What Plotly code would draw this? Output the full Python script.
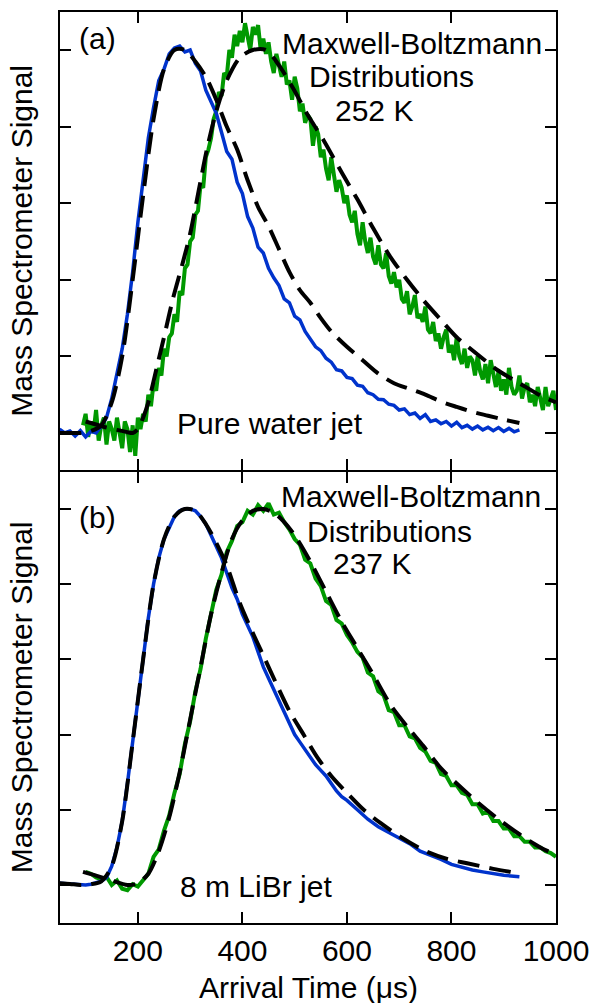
import plotly.graph_objects as go
from plotly.subplots import make_subplots

# ---------------- data ----------------
# panel (a) pure water jet
t_blue_a = list(range(50, 931, 10))
blue_a = [0.01, 0.0, 0.005, -0.008, 0.006, -0.01, 0.004, 0.0, 0.018, 0.04,
          0.09, 0.15, 0.22, 0.31, 0.42, 0.55, 0.67, 0.77, 0.85, 0.92,
          0.95, 0.99, 1.005, 1.01, 0.995, 1.0, 0.965, 0.945, 0.895, 0.865,
          0.835, 0.785, 0.735, 0.715, 0.655, 0.625, 0.565, 0.535, 0.485, 0.47,
          0.43, 0.405, 0.385, 0.35, 0.34, 0.305, 0.295, 0.265, 0.245, 0.225,
          0.215, 0.195, 0.185, 0.165, 0.162, 0.145, 0.142, 0.125, 0.122, 0.105,
          0.10, 0.088, 0.087, 0.075, 0.072, 0.06, 0.063, 0.048, 0.052, 0.038,
          0.048, 0.03, 0.034, 0.024, 0.03, 0.018, 0.028, 0.014, 0.02, 0.01,
          0.018, 0.008, 0.015, 0.006, 0.014, 0.004, 0.012, 0.003, 0.008]

t_green_a = list(range(95, 1001, 5))
green_a = [0.02, 0.05, -0.01, 0.03, 0.00, 0.06, -0.02, 0.02, 0.04, -0.03,
           0.03, 0.01, -0.02, 0.04, 0.00, -0.04, 0.03, 0.01, -0.05, 0.02,
           -0.06, 0.04, 0.01, 0.05, 0.03, 0.10, 0.07, 0.13, 0.11, 0.17,
           0.15, 0.22, 0.20, 0.25, 0.26, 0.31, 0.29, 0.37, 0.36, 0.43,
           0.44, 0.50, 0.51, 0.57, 0.58, 0.65, 0.64, 0.72, 0.74, 0.77,
           0.82, 0.84, 0.89, 0.88, 0.94, 0.93, 1.00, 0.98, 1.04, 1.01,
           1.05, 1.02, 1.07, 1.03, 1.00, 1.06, 1.04, 1.065, 1.00, 1.03,
           0.99, 1.02, 0.97, 0.94, 0.99, 0.96, 0.93, 0.97, 0.91, 0.92,
           0.87, 0.93, 0.90, 0.84, 0.86, 0.81, 0.83, 0.82, 0.75, 0.80,
           0.78, 0.72, 0.74, 0.69, 0.66, 0.72, 0.67, 0.63, 0.66, 0.64,
           0.60, 0.62, 0.57, 0.55, 0.58, 0.52, 0.49, 0.55, 0.50, 0.47,
           0.51, 0.46, 0.44, 0.49, 0.44, 0.43, 0.47, 0.41, 0.39, 0.42,
           0.38, 0.40, 0.35, 0.34, 0.37, 0.31, 0.33, 0.36, 0.30, 0.31,
           0.29, 0.33, 0.27, 0.26, 0.29, 0.24, 0.26, 0.22, 0.25, 0.27,
           0.21, 0.23, 0.19, 0.25, 0.20, 0.18, 0.22, 0.17, 0.20, 0.19,
           0.15, 0.20, 0.16, 0.14, 0.18, 0.13, 0.19, 0.15, 0.12, 0.16,
           0.11, 0.14, 0.10, 0.17, 0.12, 0.10, 0.11, 0.15, 0.09, 0.12,
           0.13, 0.08, 0.10, 0.07, 0.12, 0.09, 0.06, 0.12, 0.07, 0.09,
           0.11, 0.06]

t_fit_blue_a = [50, 70, 90, 110, 130, 150, 170, 190, 210, 230, 250, 270, 290,
                310, 330, 350, 370, 390, 410, 430, 450, 470, 490, 510, 530,
                550, 570, 600, 630, 660, 690, 720, 750, 780, 810, 840, 870,
                900, 930]
fit_blue_a = [0.0, 0.0, 0.0, 0.005, 0.02, 0.08, 0.20, 0.40, 0.62, 0.82, 0.95,
              1.0, 1.0, 0.97, 0.93, 0.87, 0.80, 0.74, 0.66, 0.59, 0.54, 0.48,
              0.42, 0.373, 0.34, 0.30, 0.265, 0.225, 0.19, 0.155, 0.13, 0.115,
              0.10, 0.082, 0.068, 0.055, 0.045, 0.035, 0.026]

t_fit_green_a = [100, 120, 140, 160, 180, 190, 200, 210, 220, 236, 250, 267,
                 285, 300, 316, 332, 350, 370, 395, 420, 445, 470, 497, 525,
                 555, 590, 620, 650, 683, 715, 746, 780, 810, 850, 887, 930,
                 975, 1000]
fit_green_a = [0.03, 0.022, 0.014, 0.008, 0.002, 0.0, 0.01, 0.04, 0.08, 0.17,
               0.25, 0.35, 0.44, 0.52, 0.63, 0.74, 0.84, 0.92, 0.98, 1.0, 1.0,
               0.96, 0.90, 0.83, 0.765, 0.68, 0.61, 0.535, 0.46, 0.40, 0.347,
               0.295, 0.25, 0.205, 0.165, 0.13, 0.094, 0.08]

# panel (b) 8 m LiBr jet
t_blue_b = [50, 70, 90, 100, 110, 120, 130, 140, 150, 160, 170, 180, 190, 200,
            210, 220, 230, 240, 250, 260, 270, 280, 290, 300, 310, 320, 330,
            340, 350, 360, 370, 380, 390, 400, 410, 420, 430, 440, 450, 460,
            470, 480, 490, 500, 510, 520, 530, 540, 550, 560, 570, 580, 590,
            600, 620, 640, 660, 680, 700, 720, 740, 760, 780, 800, 820, 840,
            860, 880, 900, 930]
blue_b = [0.005, 0.003, 0.0, 0.0, 0.002, 0.005, 0.01, 0.02, 0.05, 0.10, 0.17,
          0.27, 0.38, 0.49, 0.60, 0.71, 0.80, 0.87, 0.92, 0.95, 0.98, 0.995,
          1.0, 1.0, 0.995, 0.98, 0.96, 0.93, 0.90, 0.87, 0.83, 0.79, 0.76,
          0.72, 0.69, 0.66, 0.62, 0.58, 0.55, 0.52, 0.49, 0.46, 0.43, 0.40,
          0.38, 0.36, 0.34, 0.32, 0.305, 0.29, 0.27, 0.25, 0.235, 0.225, 0.20,
          0.175, 0.155, 0.14, 0.125, 0.11, 0.09, 0.08, 0.068, 0.055, 0.047,
          0.04, 0.035, 0.03, 0.026, 0.022]

t_green_b = list(range(100, 1001, 10))
green_b = [0.035, 0.03, 0.02, 0.015, 0.022, 0.0, 0.012, -0.01, -0.014, 0.002,
           -0.004, 0.015, 0.03, 0.075, 0.095, 0.145, 0.185, 0.245, 0.295, 0.375,
           0.435, 0.515, 0.575, 0.655, 0.715, 0.785, 0.825, 0.885, 0.915, 0.955,
           0.965, 0.995, 0.985, 1.01, 0.995, 1.015, 0.985, 0.99, 0.965, 0.945,
           0.92, 0.905, 0.865, 0.855, 0.815, 0.795, 0.755, 0.745, 0.705, 0.695,
           0.665, 0.645, 0.62, 0.605, 0.565, 0.555, 0.515, 0.505, 0.465, 0.46,
           0.425, 0.425, 0.395, 0.39, 0.365, 0.355, 0.33, 0.325, 0.295, 0.29,
           0.265, 0.265, 0.245, 0.24, 0.215, 0.215, 0.19, 0.195, 0.17, 0.17,
           0.15, 0.15, 0.13, 0.13, 0.115, 0.115, 0.10, 0.10, 0.09, 0.085,
           0.075]

t_fit_blue_b = [50, 70, 90, 110, 130, 150, 170, 190, 210, 230, 250, 270, 290,
                310, 330, 350, 370, 395, 420, 440, 465, 491, 517, 543, 570, 600,
                632, 664, 700, 746, 790, 830, 880, 926]
fit_blue_b = [0.005, 0.003, 0.0, 0.002, 0.01, 0.05, 0.17, 0.38, 0.60, 0.80,
              0.92, 0.98, 1.0, 0.995, 0.96, 0.91, 0.85, 0.75, 0.67, 0.61,
              0.535, 0.46, 0.40, 0.34, 0.29, 0.245, 0.20, 0.165, 0.13, 0.093,
              0.07, 0.058, 0.043, 0.032]

t_fit_green_b = [95, 120, 150, 180, 200, 220, 240, 260, 280, 300, 320, 340,
                 360, 380, 400, 420, 440, 460, 480, 500, 530, 560, 590, 620,
                 650, 683, 716, 746, 780, 810, 850, 890, 930, 970, 1000]
fit_green_b = [0.035, 0.025, 0.012, 0.0, 0.005, 0.03, 0.09, 0.18, 0.30, 0.44,
               0.58, 0.72, 0.83, 0.92, 0.97, 0.995, 1.0, 0.99, 0.965, 0.93,
               0.86, 0.78, 0.70, 0.63, 0.56, 0.48, 0.42, 0.37, 0.31, 0.27,
               0.22, 0.175, 0.135, 0.10, 0.08]

x_ticks = [200, 400, 600, 800, 1000]
y_ticks = [0, 0.2, 0.4, 0.6, 0.8, 1.0]

BLUE = "#0033cc"
GREEN = "#009900"
FONT = "Liberation Sans, Arial, Helvetica, sans-serif"
FS = 30

fig = make_subplots(rows=2, cols=1, shared_xaxes=True, vertical_spacing=0.0)

def add_panel(row, tb, yb, tg, yg, tfb, yfb, tfg, yfg, gw):
    fig.add_trace(go.Scatter(x=tg, y=yg, mode="lines",
                             line=dict(color=GREEN, width=gw)), row=row, col=1)
    fig.add_trace(go.Scatter(x=tb, y=yb, mode="lines",
                             line=dict(color=BLUE, width=3.5)), row=row, col=1)
    for tt, yy in ((tfb, yfb), (tfg, yfg)):
        fig.add_trace(go.Scatter(x=tt, y=yy, mode="lines",
                                 line=dict(color="black", width=4, dash="22px,10px",
                                           shape="spline", smoothing=0.8)),
                      row=row, col=1)

add_panel(1, t_blue_a, blue_a, t_green_a, green_a,
          t_fit_blue_a, fit_blue_a, t_fit_green_a, fit_green_a, 4)
add_panel(2, t_blue_b, blue_b, t_green_b, green_b,
          t_fit_blue_b, fit_blue_b, t_fit_green_b, fit_green_b, 4)

axis_common = dict(showline=True, linecolor="black", linewidth=2, mirror="ticks",
                   ticks="inside", tickcolor="black", tickwidth=2, ticklen=11,
                   showgrid=False, zeroline=False, automargin=False)

fig.update_xaxes(range=[51, 1000], tickvals=x_ticks, **axis_common)
fig.update_xaxes(showticklabels=False, row=1, col=1)
fig.update_xaxes(showticklabels=True, row=2, col=1,
                 tickfont=dict(family=FONT, size=FS, color="black"))
fig.update_yaxes(tickvals=y_ticks, showticklabels=False, **axis_common)
fig.update_yaxes(range=[-0.0966, 1.0992], row=1, col=1,
                 domain=[0.4973, 1.0])
fig.update_yaxes(range=[-0.101, 1.0984], row=2, col=1,
                 domain=[0.0, 0.4951])

ann_font = dict(family=FONT, size=FS, color="black")
texts = [
    ("x", "y", 122, 1.031, "(a)"),
    ("x", "y", 724, 1.018, "Maxwell-Boltzmann"),
    ("x", "y", 686, 0.93, "Distributions"),
    ("x", "y", 652, 0.843, "252 K"),
    ("x", "y", 453, 0.026, "Pure water jet"),
    ("x2", "y2", 122, 0.976, "(b)"),
    ("x2", "y2", 723, 1.032, "Maxwell-Boltzmann"),
    ("x2", "y2", 682, 0.939, "Distributions"),
    ("x2", "y2", 648, 0.856, "237 K"),
    ("x2", "y2", 426, -0.005, "8 m LiBr jet"),
]
for xr, yr, xv, yv, txt in texts:
    fig.add_annotation(xref=xr, yref=yr, x=xv, y=yv, text=txt, showarrow=False,
                       font=ann_font, xanchor="center", yanchor="middle")

for yd in ("y domain", "y2 domain"):
    fig.add_annotation(xref="paper", yref=yd, x=-0.077, y=0.5,
                       text="Mass Spectrometer Signal", textangle=-90,
                       showarrow=False, font=ann_font, xanchor="center",
                       yanchor="middle")

fig.add_annotation(xref="paper", yref="paper", x=0.5, y=-0.0713,
                   text="Arrival Time (μs)", showarrow=False, font=ann_font,
                   xanchor="center", yanchor="middle")

fig.update_layout(width=591, height=1003, showlegend=False,
                  margin=dict(l=60, r=35, t=12, b=80),
                  plot_bgcolor="white", paper_bgcolor="white",
                  font=dict(family=FONT, size=FS, color="black"))

fig.write_html("out.html")
